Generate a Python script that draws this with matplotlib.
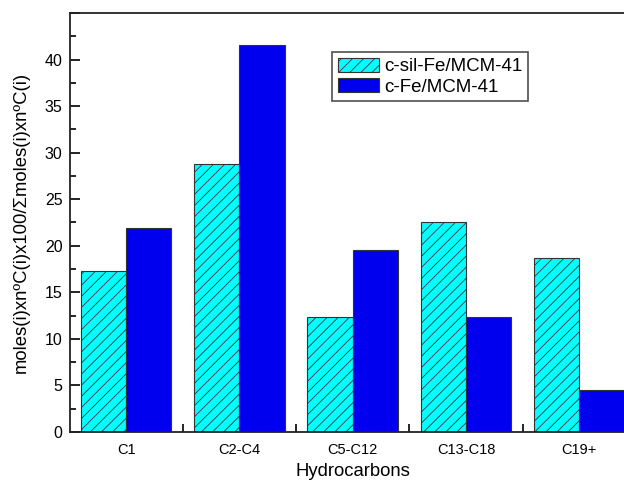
import numpy as np
import matplotlib.pyplot as plt
from matplotlib.ticker import MultipleLocator, FixedLocator

plt.rcParams['font.family'] = ['Liberation Sans', 'DejaVu Sans']
plt.rcParams['hatch.linewidth'] = 0.6
plt.rcParams['hatch.color'] = '#1a4040'

# data
categories = ['C1', 'C2-C4', 'C5-C12', 'C13-C18', 'C19+']
sil_fe = [17.3, 28.8, 12.4, 22.5, 18.7]
c_fe = [21.9, 41.6, 19.5, 12.3, 4.5]

fig = plt.figure(figsize=(6.24, 4.8), dpi=100)
# right edge runs past the figure, as in the cropped original
ax = fig.add_axes([69.5 / 624, 48 / 480, 566.5 / 624, 419 / 480])

x = np.arange(len(categories))
w = 0.4
ax.bar(x - w / 2, sil_fe, w, color='cyan', edgecolor='#333333', linewidth=0.8,
       hatch='///', label='c-sil-Fe/MCM-41')
ax.bar(x + w / 2, c_fe, w, color='#0000ee', edgecolor='#333333', linewidth=0.8,
       label='c-Fe/MCM-41')

ax.set_xlim(-0.5, 4.5)
ax.set_ylim(0, 45)
ax.set_xticks(x)
ax.set_xticklabels(categories)
ax.xaxis.set_minor_locator(FixedLocator([0.5, 1.5, 2.5, 3.5]))
ax.tick_params(axis='x', which='major', length=0, labelsize=10.5, pad=8)
ax.tick_params(axis='x', which='minor', direction='in', length=6, width=1.2)
ax.yaxis.set_major_locator(MultipleLocator(5))
ax.yaxis.set_minor_locator(MultipleLocator(2.5))
ax.tick_params(axis='y', which='major', direction='in', length=7, width=1.2,
               labelsize=11.5, pad=5)
ax.tick_params(axis='y', which='minor', direction='in', length=4, width=1.2)
ax.yaxis.set_major_formatter(plt.FuncFormatter(lambda v, p: '' if v >= 45 else f'{v:g}'))

for s in ax.spines.values():
    s.set_linewidth(1.3)
    s.set_color('#222222')

ax.set_xlabel('Hydrocarbons', fontsize=13.3, labelpad=4)
ax.set_ylabel('moles(i)xnºC(i)x100/Σmoles(i)xnºC(i)', fontsize=13.3, labelpad=11)

leg = ax.legend(loc='upper left', bbox_to_anchor=(332 / 624, 1 - 52 / 480),
                bbox_transform=fig.transFigure, borderaxespad=0, fontsize=13.5,
                frameon=True, fancybox=False, edgecolor='#222222',
                handlelength=2.2, handleheight=0.8, borderpad=0.3,
                labelspacing=0.15, handletextpad=0.3)
leg.get_frame().set_linewidth(1.2)

fig.savefig('out.png', dpi=100)
